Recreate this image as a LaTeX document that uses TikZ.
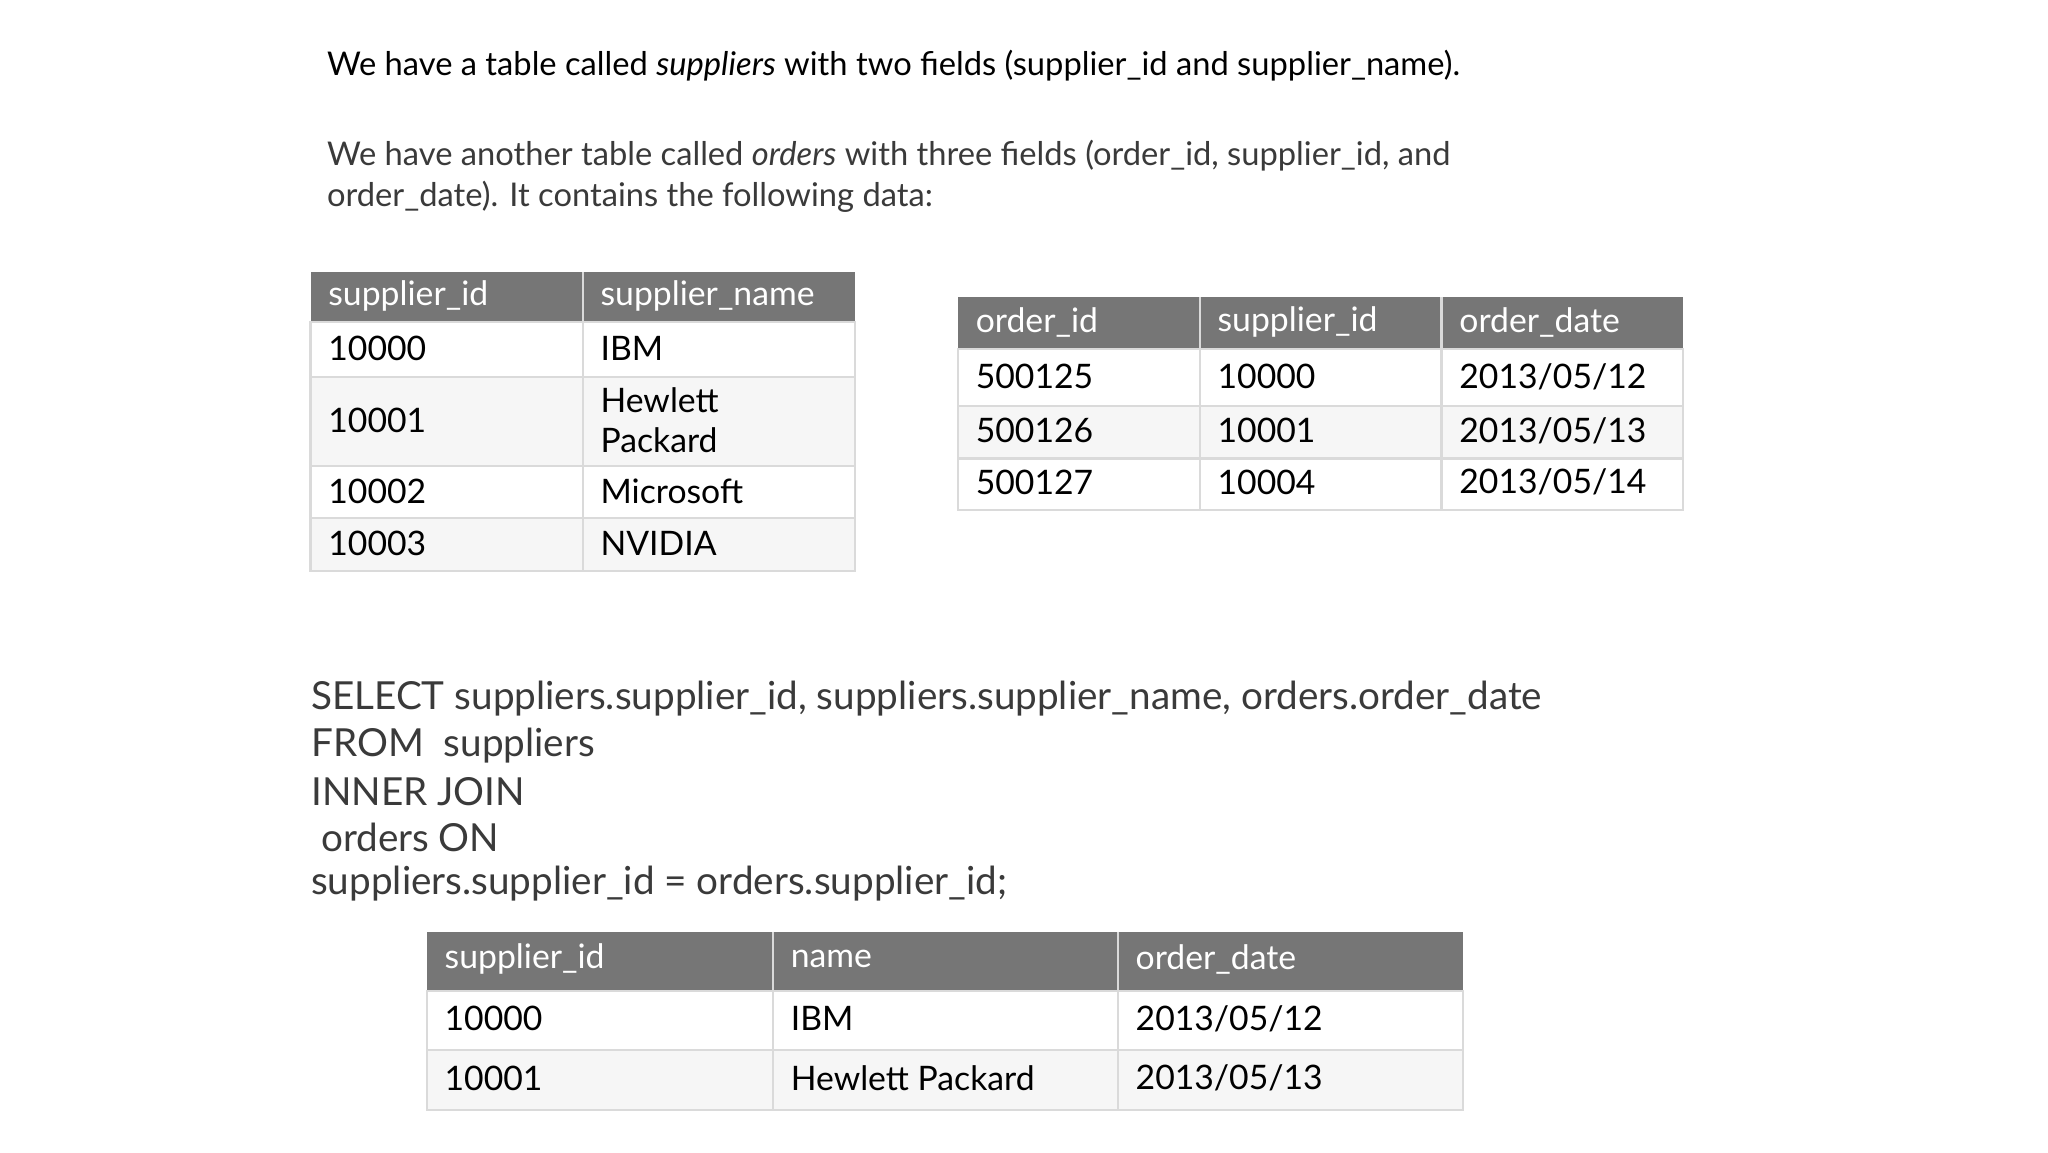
\documentclass[tikz,border=0pt]{standalone}
\usepackage{fontspec}
\setmainfont{Lato}
\definecolor{hdr}{HTML}{767676}
\definecolor{alt}{HTML}{F6F6F6}
\definecolor{grid}{HTML}{DADADA}
\definecolor{txt}{HTML}{3A3A3A}
\tikzset{
  cell/.style={anchor=west,inner sep=0pt,font=\fontsize{9.6pt}{11.2pt}\selectfont,text=black,align=left},
  hcell/.style={cell,text=white},
  para/.style={anchor=west,inner sep=0pt,font=\fontsize{9.3pt}{11pt}\selectfont},
  sql/.style={anchor=west,inner sep=0pt,font=\fontsize{11pt}{13pt}\selectfont,text=txt},
  gl/.style={draw=grid,line width=0.6pt}
}
\begin{document}
\begin{tikzpicture}[x=0.013213cm,y=-0.013213cm]
\useasboundingbox (0,0) rectangle (1550,872);
\fill[white] (0,0) rectangle (1550,872);
% text
\node[para,text=black] (t1) at (247,50) {We have a table called \textit{suppliers} with two fields (supplier\_id and supplier\_name).};
\node[para,text=txt] (t2) at (247,118) {We have another table called \textit{orders} with three fields (order\_id, supplier\_id, and};
\node[para,text=txt] (t3) at (247,149) {order\_date). It contains the following data:};
% table 1
\fill[hdr] (235,206) rectangle (647,244);
\fill[alt] (235,285) rectangle (647,353);
\fill[alt] (235,392) rectangle (647,432);
\draw[gl] (235,244) rectangle (647,432);
\draw[gl] (235,285) -- (647,285) (235,353) -- (647,353) (235,392) -- (647,392);
\draw[gl] (441,206) -- (441,432);
\node[hcell] (a00) at (248,224) {supplier\_id};
\node[hcell] (a01) at (454,224) {supplier\_name};
\node[cell] (a10) at (248,264) {10000};
\node[cell] (a11) at (454,264) {IBM};
\node[cell] (a20) at (248,318) {10001};
\node[cell] (a21) at (454,318) {Hewlett\\Packard};
\node[cell] (a30) at (248,372) {10002};
\node[cell] (a31) at (454,372) {Microsoft};
\node[cell] (a40) at (248,411) {10003};
\node[cell] (a41) at (454,411) {NVIDIA};
% table 2
\fill[hdr] (725,225) rectangle (1274,264);
\fill[alt] (725,307) rectangle (1274,347);
\draw[gl] (725,264) rectangle (1274,386);
\draw[gl] (725,307) -- (1274,307) (725,347) -- (1274,347);
\draw[gl] (908,225) -- (908,386) (1091,225) -- (1091,386);
\node[hcell] (b00) at (738,244) {order\_id};
\node[hcell] (b01) at (921,244) {supplier\_id};
\node[hcell] (b02) at (1104,244) {order\_date};
\node[cell] (b10) at (738,285) {500125};
\node[cell] (b11) at (921,285) {10000};
\node[cell] (b12) at (1104,285) {2013/05/12};
\node[cell] (b20) at (738,326) {500126};
\node[cell] (b21) at (921,326) {10001};
\node[cell] (b22) at (1104,326) {2013/05/13};
\node[cell] (b30) at (738,365) {500127};
\node[cell] (b31) at (921,365) {10004};
\node[cell] (b32) at (1104,365) {2013/05/14};
% SQL
\node[sql] (s1) at (235,529) {SELECT suppliers.supplier\_id, suppliers.supplier\_name, orders.order\_date};
\node[sql] (s2) at (235,564) {FROM\ \ suppliers};
\node[sql] (s3) at (235,599) {INNER JOIN};
\node[sql] (s4) at (235,634) {\ orders ON};
\node[sql] (s5) at (235,669) {suppliers.supplier\_id = orders.supplier\_id;};
% table 3
\fill[hdr] (323,705) rectangle (1107,750);
\fill[alt] (323,795) rectangle (1107,840);
\draw[gl] (323,750) rectangle (1107,840);
\draw[gl] (323,795) -- (1107,795);
\draw[gl] (585,705) -- (585,840) (846,705) -- (846,840);
\node[hcell] (c00) at (336,726) {supplier\_id};
\node[hcell] (c01) at (598,726) {name};
\node[hcell] (c02) at (859,726) {order\_date};
\node[cell] (c10) at (336,771) {10000};
\node[cell] (c11) at (598,771) {IBM};
\node[cell] (c12) at (859,771) {2013/05/12};
\node[cell] (c20) at (336,816) {10001};
\node[cell] (c21) at (598,816) {Hewlett Packard};
\node[cell] (c22) at (859,816) {2013/05/13};
\end{tikzpicture}
\end{document}
